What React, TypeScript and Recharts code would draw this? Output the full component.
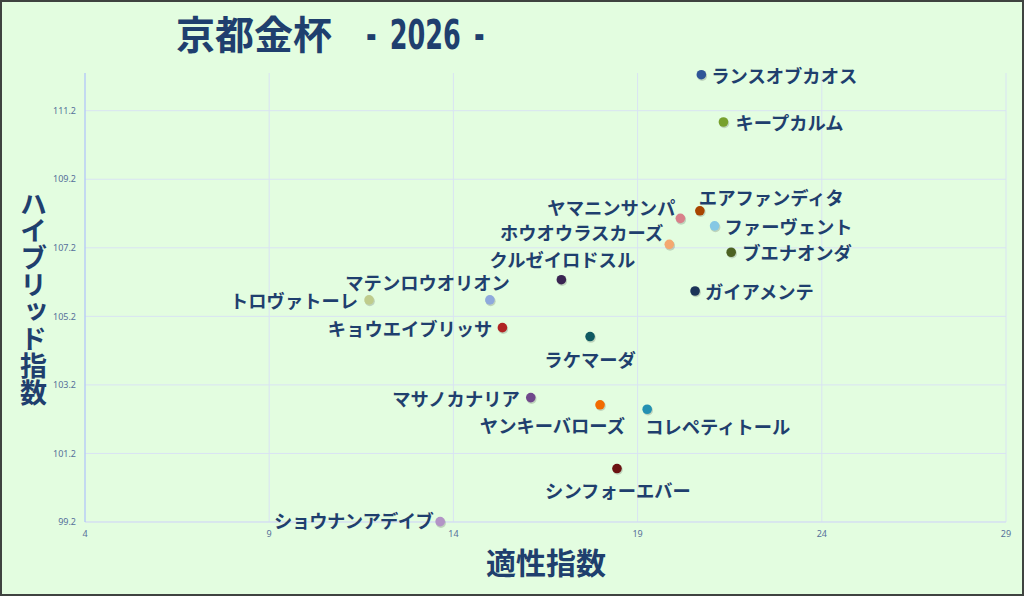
import React from 'react';
import { ScatterChart, Scatter, XAxis, YAxis, CartesianGrid } from 'recharts';

const horseNames = [
  'ランスオブカオス', 'キープカルム', 'エアファンディタ', 'ヤマニンサンパ', 'ファーヴェント',
  'ホウオウラスカーズ', 'ブエナオンダ', 'クルゼイロドスル', 'ガイアメンテ', 'マテンロウオリオン',
  'トロヴァトーレ', 'キョウエイブリッサ', 'ラケマーダ', 'マサノカナリア', 'ヤンキーバローズ',
  'コレペティトール', 'シンフォーエバー', 'ショウナンアデイブ',
];
const aptitudeIndex = [
  20.73, 21.33, 20.69, 20.16, 21.09,
  19.86, 21.54, 16.93, 20.56, 14.99,
  11.71, 15.33, 17.71, 16.10, 17.98,
  19.26, 18.44, 13.64,
];
const hybridIndex = [
  112.25, 110.87, 108.28, 108.06, 107.84,
  107.30, 107.07, 106.27, 105.94, 105.68,
  105.68, 104.87, 104.61, 102.83, 102.62,
  102.49, 100.76, 99.21,
];
const xTicks = [4, 9, 14, 19, 24, 29];
const yTicks = [99.2, 101.2, 103.2, 105.2, 107.2, 109.2, 111.2];

const chartTitle = '京都金杯';
const chartYear = '- 2026 -';
const xAxisTitle = '適性指数';
const yAxisTitle = 'ハイブリッド指数';

// style: point colours and label placement (dx, dy, anchor, letterSpacing)
const pointColors = [
  '#2f5597', '#77a02d', '#a84400', '#d9808a', '#86c8e4',
  '#f4a870', '#4c6222', '#3a2552', '#1b3358', '#8ea9dc',
  '#bfcc8c', '#b02424', '#0f5a62', '#70488c', '#f26b00',
  '#2391b2', '#6b1212', '#b294c6',
];
const labelPlacements: [number, number, 'start' | 'end' | 'middle', number][] = [
  [10, 0, 'start', 0], [12, 0, 'start', 0], [-1, -14, 'start', 0], [-5, -11, 'end', 0], [10, 0, 'start', 0],
  [-6, -12, 'end', 0], [11, 0, 'start', 0], [1, -21, 'middle', 0], [10, 0, 'start', 0], [20, -18, 'end', 0],
  [-11, 0, 'end', 0], [-10, 0, 'end', 0], [0, 22, 'middle', 0], [-11, 0, 'end', 0], [25, 20, 'end', 0],
  [-2, 17, 'start', 0], [1, 21, 'middle', 0], [-7, -2, 'end', -0.6],
];

const tableData = horseNames.map((name, idx) => ({
  name,
  idx,
  x: aptitudeIndex[idx],
  y: hybridIndex[idx],
}));

const LABEL_COLOR = '#1f3f6e';
const JP_FONT = "'Noto Sans CJK JP', 'Noto Sans', sans-serif";

const renderPoint = (props: any) => {
  const { cx, cy, payload } = props;
  const i = payload.idx;
  const [dx, dy, anchor, ls] = labelPlacements[i];
  return (
    <g>
      <circle cx={cx + 0.8} cy={cy + 1.3} r={5} fill="rgba(0,0,0,0.16)" />
      <circle cx={cx} cy={cy} r={4.8} fill={pointColors[i]} />
      <text
        x={cx + dx}
        y={cy + dy}
        textAnchor={anchor}
        dominantBaseline="central"
        fontSize={18.3}
        fontWeight={700}
        letterSpacing={ls}
        fill={LABEL_COLOR}
        fontFamily={JP_FONT}
      >
        {payload.name}
      </text>
    </g>
  );
};

export default function App() {
  return (
    <div
      style={{
        position: 'absolute',
        left: 0,
        top: 0,
        width: 1024,
        height: 596,
        background: '#e3fde0',
        overflow: 'hidden',
      }}
    >
      <ScatterChart width={1024} height={596} margin={{ top: 73, right: 18, bottom: 0, left: 0 }}>
        <CartesianGrid stroke="#d9e3f3" strokeWidth={1} horizontalValues={yTicks} verticalValues={xTicks} />
        <XAxis
          type="number"
          dataKey="x"
          domain={[4, 29]}
          ticks={xTicks}
          height={74}
          tickSize={0}
          tickMargin={9}
          axisLine={{ stroke: '#d3ddf0' }}
          tickLine={false}
          interval={0}
          tick={{ fontSize: 9, fill: '#56709a', fontFamily: "'Noto Sans', sans-serif" }}
        />
        <YAxis
          type="number"
          dataKey="y"
          domain={[99.2, 112.3]}
          ticks={yTicks}
          width={85}
          tickSize={0}
          tickMargin={9}
          axisLine={{ stroke: '#a8c2f6' }}
          tickLine={false}
          interval={0}
          tick={{ fontSize: 9, fill: '#56709a', fontFamily: "'Noto Sans', sans-serif" }}
        />
        <Scatter data={tableData} shape={renderPoint} isAnimationActive={false} />
      </ScatterChart>

      <div
        style={{
          position: 'absolute',
          left: 176,
          top: 5,
          height: 54,
          lineHeight: '54px',
          whiteSpace: 'nowrap',
          color: LABEL_COLOR,
          fontWeight: 700,
        }}
      >
        <span style={{ fontFamily: JP_FONT, fontSize: 39 }}>{chartTitle}</span>
        <span
          style={{
            display: 'inline-block',
            fontFamily: "'DejaVu Sans Condensed', 'DejaVu Sans', sans-serif",
            fontSize: 40,
            marginLeft: 34,
            wordSpacing: 6,
            transform: 'scaleX(0.71)',
            transformOrigin: 'left center',
          }}
        >
          {chartYear}
        </span>
      </div>

      <div
        style={{
          position: 'absolute',
          left: 486,
          top: 541,
          height: 40,
          lineHeight: '40px',
          fontSize: 30,
          fontWeight: 700,
          color: LABEL_COLOR,
          fontFamily: JP_FONT,
          whiteSpace: 'nowrap',
        }}
      >
        {xAxisTitle}
      </div>

      <div
        style={{
          position: 'absolute',
          left: 15,
          top: 190,
          width: 36,
          writingMode: 'vertical-rl',
          textOrientation: 'upright',
          fontSize: 27,
          lineHeight: '36px',
          fontWeight: 700,
          color: LABEL_COLOR,
          fontFamily: JP_FONT,
          whiteSpace: 'nowrap',
        }}
      >
        {yAxisTitle}
      </div>

      <div
        style={{
          position: 'absolute',
          left: 0,
          top: 0,
          width: 1024,
          height: 596,
          boxSizing: 'border-box',
          border: '2px solid #3f4340',
          pointerEvents: 'none',
        }}
      />
    </div>
  );
}
